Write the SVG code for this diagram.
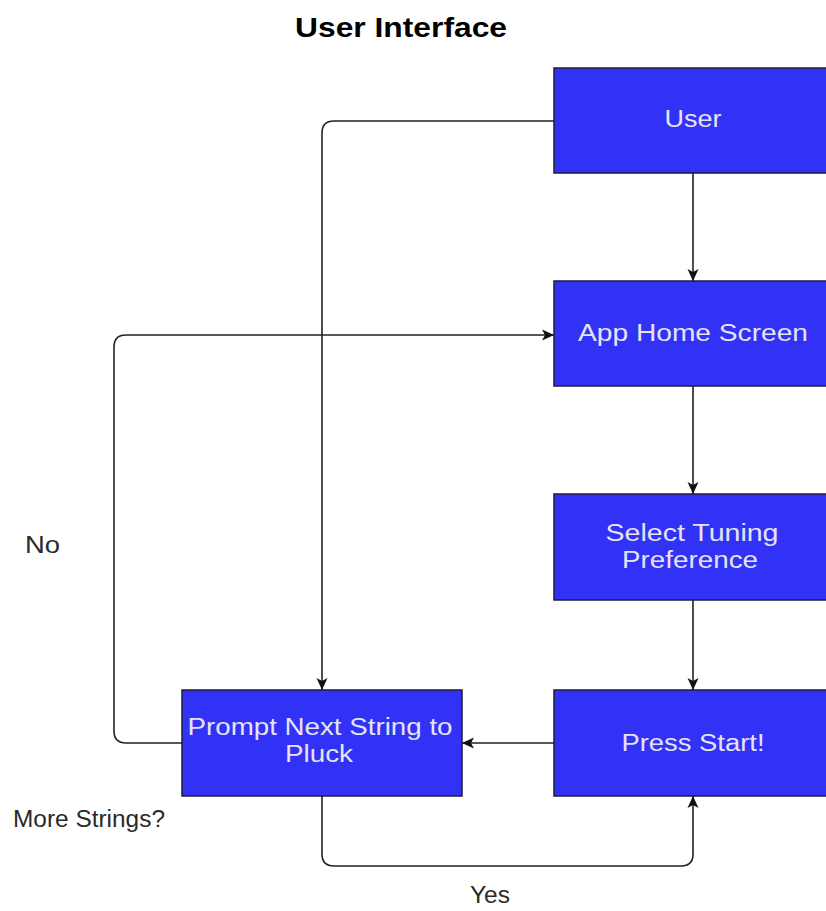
<svg xmlns="http://www.w3.org/2000/svg" width="826" height="911" viewBox="0 0 826 911">
  <style>
    .box { fill: #3232f6; stroke: #1c1c3c; stroke-width: 1.5; }
    .btxt { font-family: "Liberation Sans", Arial, sans-serif; font-size: 23px; fill: #e4e4f4; text-anchor: middle; }
    .lbl { font-family: "Liberation Sans", Arial, sans-serif; font-size: 23px; fill: #2a2a2a; }
    .title { font-family: "Liberation Sans", Arial, sans-serif; font-size: 27px; font-weight: bold; fill: #000; }
    .edge { fill: none; stroke: #222; stroke-width: 1.6; marker-end: url(#arrow); }
  </style>
  <defs>
    <marker id="arrow" markerUnits="userSpaceOnUse" markerWidth="14" markerHeight="14" refX="13" refY="7" orient="auto">
      <path d="M1,1.5 L13,7 L1,12.5 L4,7 Z" fill="#111"/>
    </marker>
  </defs>
  <rect width="826" height="911" fill="#fff"/>

  <text class="title" x="295" y="37" textLength="212" lengthAdjust="spacingAndGlyphs">User Interface</text>

  <g id="connectors">
    <path class="edge" d="M693,173 V281"/>
    <path class="edge" d="M693,386 V494"/>
    <path class="edge" d="M693,600 V690"/>
    <path class="edge" d="M554,743 H462"/>
    <path class="edge" d="M554,121 H334 Q322,121 322,133 V690"/>
    <path class="edge" d="M182,743 H126 Q114,743 114,731 V347 Q114,335 126,335 H554"/>
    <path class="edge" d="M322,796 V854 Q322,866 334,866 H681 Q693,866 693,854 V796"/>
  </g>

  <g id="user">
    <rect class="box" x="554" y="68" width="280" height="105"/>
    <text class="btxt" x="693" y="127" textLength="57" lengthAdjust="spacingAndGlyphs">User</text>
  </g>
  <g id="app-home">
    <rect class="box" x="554" y="281" width="280" height="105"/>
    <text class="btxt" x="693" y="341" textLength="230" lengthAdjust="spacingAndGlyphs">App Home Screen</text>
  </g>
  <g id="select-tuning">
    <rect class="box" x="554" y="494" width="280" height="106"/>
    <text class="btxt" x="692" y="541" textLength="173" lengthAdjust="spacingAndGlyphs">Select Tuning</text>
    <text class="btxt" x="690" y="568" textLength="136" lengthAdjust="spacingAndGlyphs">Preference</text>
  </g>
  <g id="press-start">
    <rect class="box" x="554" y="690" width="280" height="106"/>
    <text class="btxt" x="693" y="751" textLength="143" lengthAdjust="spacingAndGlyphs">Press Start!</text>
  </g>
  <g id="prompt-next">
    <rect class="box" x="182" y="690" width="280" height="106"/>
    <text class="btxt" x="320" y="735" textLength="265" lengthAdjust="spacingAndGlyphs">Prompt Next String to</text>
    <text class="btxt" x="319" y="762" textLength="68" lengthAdjust="spacingAndGlyphs">Pluck</text>
  </g>

  <g id="labels">
    <text class="lbl" x="25" y="553" textLength="35" lengthAdjust="spacingAndGlyphs">No</text>
    <text class="lbl" x="13" y="827" textLength="152" lengthAdjust="spacingAndGlyphs">More Strings?</text>
    <text class="lbl" x="470" y="903" textLength="40" lengthAdjust="spacingAndGlyphs">Yes</text>
  </g>
</svg>
